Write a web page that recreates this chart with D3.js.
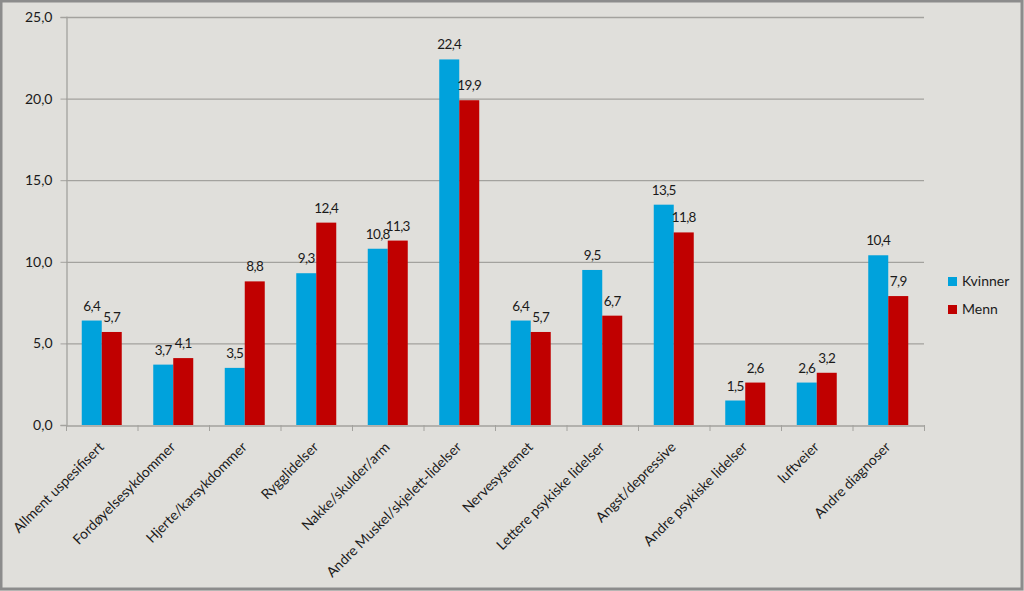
<!DOCTYPE html>
<html><head><meta charset="utf-8">
<script src="https://cdn.jsdelivr.net/npm/d3@7"></script>
<style>
html,body{margin:0;padding:0;background:#e0dfdb;}
svg{display:block;}
text{font-family:Lato,"Open Sans",sans-serif;fill:#1a1a1a;}
</style></head><body>
<svg id="c" width="1024" height="591"></svg>
<script>
const categories = ["Allment uspesifisert","Fordøyelsesykdommer","Hjerte/karsykdommer","Rygglidelser","Nakke/skulder/arm","Andre Muskel/skjelett-lidelser","Nervesystemet","Lettere psykiske lidelser","Angst/depressive","Andre psykiske lidelser","luftveier","Andre diagnoser"];
const seriesNames = ["Kvinner","Menn"];
const kvinner = [6.4,3.7,3.5,9.3,10.8,22.4,6.4,9.5,13.5,1.5,2.6,10.4];
const menn = [5.7,4.1,8.8,12.4,11.3,19.9,5.7,6.7,11.8,2.6,3.2,7.9];
const yTicks = [0,5,10,15,20,25];
const colors = ["#00a2dc","#c00000"];

(function(){
const svg = d3.select("#c");
svg.append("rect").attr("x",1).attr("y",1).attr("width",1021).attr("height",588)
  .attr("fill","#e0dfdb").attr("stroke","#8c8c8c").attr("stroke-width",3);

const pl=66, pr=924, pt=17, pb=425;
const x = d3.scaleBand().domain(categories).range([pl,pr]).paddingInner(0).paddingOuter(0);
const y = d3.scaleLinear().domain([0,25]).range([pb,pt]);
const xs = d3.scaleBand().domain(seriesNames).range([0,x.bandwidth()]).paddingInner(0).paddingOuter(0.7875);
const fmt = v => d3.format(".1f")(v).replace(".",",");

svg.append("g").selectAll("line").data(yTicks.filter(t=>t>0)).join("line")
  .attr("x1",pl).attr("x2",pr).attr("y1",d=>y(d)+0.5).attr("y2",d=>y(d)+0.5)
  .attr("stroke","#a3a29e").attr("stroke-width",1.3);

const ya = svg.append("g").attr("transform",`translate(${pl+0.5},0)`)
  .call(d3.axisLeft(y).tickValues(yTicks).tickFormat(fmt).tickSize(6).tickPadding(8));
ya.select(".domain").attr("stroke","#a3a29e").attr("stroke-width",1.3);
ya.selectAll(".tick line").attr("stroke","#a3a29e");
ya.selectAll(".tick text").attr("font-size",14).attr("fill","#1a1a1a").style("font-family","Lato,'Open Sans',sans-serif");

const xa = svg.append("g").attr("transform",`translate(0,${pb+0.5})`)
  .call(d3.axisBottom(x).tickSize(0).tickFormat(""));
xa.select(".domain").attr("stroke","#a3a29e").attr("stroke-width",1.3);
const bounds = categories.map(c=>x(c)).concat([pr]);
svg.append("g").selectAll("line").data(bounds).join("line")
  .attr("x1",d=>d+0.5).attr("x2",d=>d+0.5).attr("y1",pb).attr("y2",pb+6)
  .attr("stroke","#a3a29e");

const data = categories.map((c,i)=>({c, vals:[kvinner[i],menn[i]]}));
const g = svg.append("g").selectAll("g").data(data).join("g")
  .attr("transform",d=>`translate(${x(d.c)},0)`);
g.selectAll("rect").data(d=>d.vals.map((v,j)=>({v,s:seriesNames[j],j}))).join("rect")
  .attr("x",d=>xs(d.s)).attr("width",xs.bandwidth())
  .attr("y",d=>y(d.v)).attr("height",d=>y(0)-y(d.v)).attr("fill",d=>colors[d.j]);
g.selectAll("text").data(d=>d.vals.map((v,j)=>({v,s:seriesNames[j],j}))).join("text")
  .attr("x",d=>xs(d.s)+xs.bandwidth()/2).attr("y",d=>y(d.v)-10)
  .attr("text-anchor","middle").attr("font-size",13.5).attr("letter-spacing",-0.6).text(d=>fmt(d.v));

svg.append("g").selectAll("text").data(categories).join("text")
  .attr("transform",c=>`translate(${x(c)+x.bandwidth()/2+3},${pb+23}) rotate(-45)`)
  .attr("text-anchor","end").attr("font-size",14).text(c=>c);

const lg = svg.append("g").attr("transform","translate(948,270)");
seriesNames.forEach((s,i)=>{
  lg.append("rect").attr("x",0).attr("y",i*28+7).attr("width",9).attr("height",9).attr("fill",colors[i]);
  lg.append("text").attr("x",14).attr("y",i*28+16).attr("font-size",14).text(s);
});
})();
</script></body></html>
